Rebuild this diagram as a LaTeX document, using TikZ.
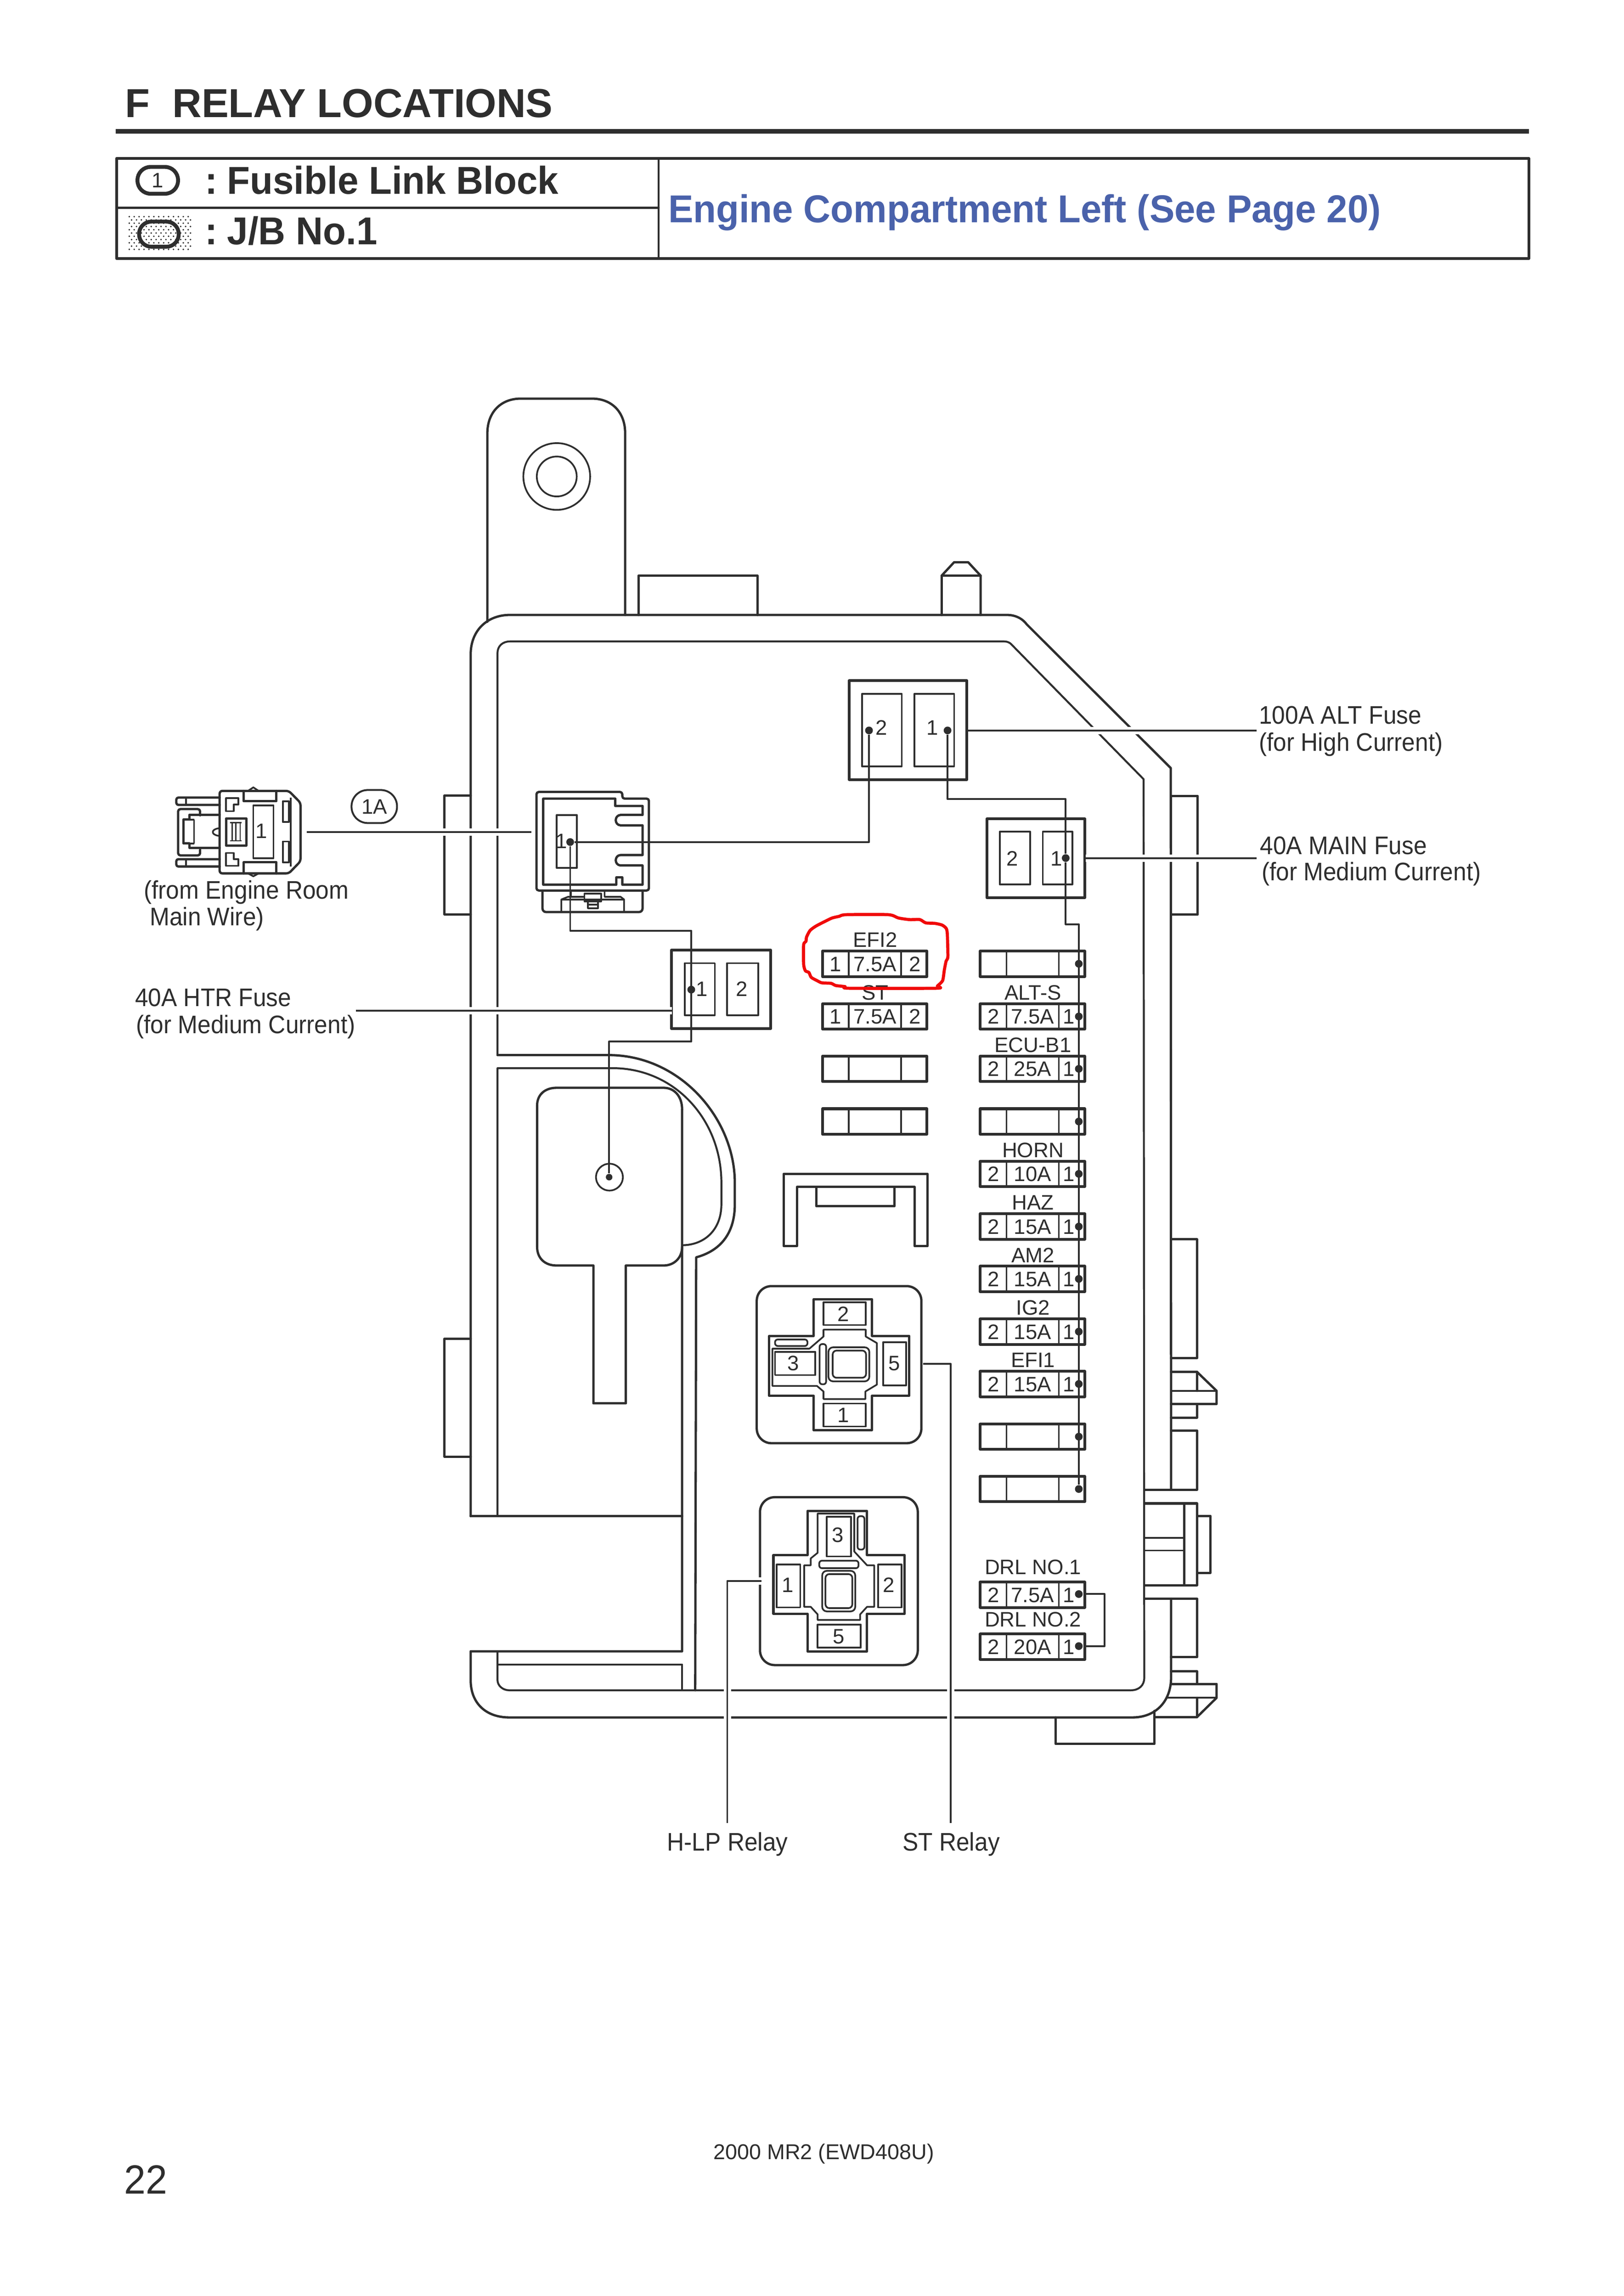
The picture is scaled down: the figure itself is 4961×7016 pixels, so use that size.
\documentclass[tikz,border=0pt]{standalone}
\usepackage{fontspec}
\setmainfont{Liberation Sans}
\newfontfamily\capfont[FakeStretch=0.93]{Liberation Sans}
\newfontfamily\legfont[FakeStretch=0.965]{Liberation Sans}
\newfontfamily\pagefont[FakeStretch=0.95]{Liberation Sans}
\definecolor{ink}{HTML}{2E2E2E}
\definecolor{headblue}{HTML}{4A62AB}
\definecolor{marker}{HTML}{F00A0A}
\tikzset{
  wall/.style={draw=ink,line width=0.30mm,line join=round,line cap=round},
  hvy/.style={draw=ink,line width=0.36mm,line join=round,line cap=round},
  lite/.style={draw=ink,line width=0.22mm,line join=round},
  wire/.style={draw=ink,line width=0.23mm,line join=round},
  leader/.style={draw=ink,line width=0.23mm,line join=round,line cap=butt,
     preaction={draw=white,line width=0.95mm,line cap=butt}},
  dotn/.style={circle,fill=ink,draw=none,minimum size=1.0mm,inner sep=0pt},
  lab/.style={inner sep=0pt,text=ink,font=\fontsize{7.7}{9}\selectfont},
  capt/.style={inner sep=0pt,text=ink,font=\capfont\fontsize{9.35}{11}\selectfont,anchor=base west},
  headt/.style={inner sep=0pt,text=ink,font=\legfont\fontsize{14.3}{17}\bfseries\selectfont,anchor=base west},
}
% name, x, top, left text, amp, right text, right offset, label, label baseline
\newcommand\fuse[9]{%
  \draw[hvy] (#2,#3+3) rectangle (#2+319,#3+81);
  \draw[lite] (#2+80,#3+3) -- (#2+80,#3+81);
  \draw[lite] (#2+240,#3+3) -- (#2+240,#3+81);
  \node[lab,anchor=base] (#1L) at (#2+40,#3+65) {#4};
  \node[lab,anchor=base] (#1A) at (#2+160,#3+65) {#5};
  \node[lab,anchor=base] (#1R) at (#2+#7,#3+65) {#6};
  \node[lab,anchor=base] (#1T) at (#2+161,#9) {#8};
}
\newcommand\blankfuse[2]{%
  \draw[hvy] (#1,#2+3) rectangle (#1+319,#2+81);
  \draw[lite] (#1+80,#2+3) -- (#1+80,#2+81);
  \draw[lite] (#1+240,#2+3) -- (#1+240,#2+81);
}
\begin{document}
\begin{tikzpicture}[x=0.04233mm,y=-0.04233mm]
\fill[white] (0,0) rectangle (4961,7016);
\useasboundingbox (0,0) rectangle (4961,7016);

% ---------- heading ----------
\node[headt,font=\fontsize{14.9}{17}\bfseries\selectfont] (title) at (381,358) {F\ \ RELAY LOCATIONS};
\fill[ink] (353,394) rectangle (4671,408);
\draw[hvy] (356,484) rectangle (4671,790);
\draw[wall] (356,635) -- (2012,635);
\draw[lite] (2012,484) -- (2012,790);
\draw[ink,line width=0.5mm,rounded corners=1.7mm] (420,510) rectangle (544,592);
\node[lab,anchor=base] (ico1) at (482,573) {1};
\foreach \i in {0,...,12}{\foreach \j in {0,...,10}{
  \fill[ink] ({395+\i*15+mod(\j,2)*7},{662+\j*10}) circle (2.6);}}
\draw[ink,line width=0.5mm,rounded corners=1.6mm] (425,677) rectangle (546,754);
\node[headt] (legA) at (625,593) {:\hspace{-0.55mm} Fusible Link Block};
\node[headt] (legB) at (625,747) {:\hspace{-0.55mm} J/B No.1};
\node[headt,text=headblue] (place) at (2040,680) {Engine Compartment Left (See Page 20)};

% ---------- housing ----------
\draw[wall] (1489,1900) -- (1489,1324) .. controls (1489,1260) and (1530,1218) .. (1591,1218)
   -- (1808,1218) .. controls (1870,1218) and (1910,1260) .. (1910,1324) -- (1910,1879);
\draw[lite] (1701,1456) circle (102);
\draw[lite] (1701,1456) circle (61);
\draw[wall] (1951,1879) -- (1951,1759) -- (2314,1759) -- (2314,1879);
\draw[wall] (2877,1879) -- (2877,1759) -- (2915,1718) -- (2958,1718) -- (2996,1759) -- (2996,1879);
\draw[wall] (2877,1759) -- (2996,1759);
% outer wall
\draw[wall] (1438,4633) -- (1438,2000) .. controls (1438,1925) and (1490,1879) .. (1558,1879)
   -- (3076,1879) .. controls (3100,1879) and (3122,1888) .. (3137,1908) -- (3577,2347) -- (3578,4552);
\draw[wall] (3578,4885) -- (3578,5125) .. controls (3578,5200) and (3530,5248) .. (3460,5248)
   -- (1556,5248) .. controls (1485,5248) and (1438,5205) .. (1438,5134) -- (1438,5046) -- (2084,5046) -- (2084,3390);
\draw[wall] (1438,4633) -- (2084,4633);
% inner wall
\draw[lite,line width=0.25mm] (1520,3224) -- (1520,1995) .. controls (1520,1975) and (1535,1960) .. (1558,1960)
   -- (3068,1960) .. controls (3078,1960) and (3086,1964) .. (3091,1970) -- (3494,2381) -- (3496,5127)
   .. controls (3496,5150) and (3480,5165) .. (3455,5165) -- (1556,5165) .. controls (1535,5165) and (1520,5150) .. (1520,5134) -- (1520,5046);
\draw[lite,line width=0.25mm] (1520,4633) -- (1520,3264) -- (1872,3264)
   .. controls (2060,3264) and (2204,3420) .. (2204,3614) -- (2204,3680)
   .. controls (2204,3760) and (2150,3805) .. (2084,3805);
\draw[wall] (1520,3224) -- (1859,3224) .. controls (2080,3224) and (2245,3420) .. (2245,3614)
   -- (2245,3680) .. controls (2245,3780) and (2190,3825) .. (2127,3842) -- (2124,5165);
\draw[lite,line width=0.25mm] (1520,5086) -- (2084,5086) -- (2084,5165);
% handle
\draw[wall] (2084,3390) .. controls (2084,3350) and (2060,3324) .. (2028,3324) -- (1700,3324)
   .. controls (1665,3324) and (1641,3345) .. (1641,3378) -- (1641,3810)
   .. controls (1641,3845) and (1665,3867) .. (1700,3867) -- (1813,3867) -- (1813,4288)
   -- (1912,4288) -- (1912,3867) -- (2028,3867) .. controls (2058,3867) and (2084,3845) .. (2084,3810);
\draw[lite] (1862,3597) circle (41);
% side brackets
\draw[wall] (1438,2431) -- (1358,2431) -- (1358,2794) -- (1438,2794);
\draw[wall] (1438,4091) -- (1358,4091) -- (1358,4451) -- (1438,4451);
\draw[wall] (3578,2432) -- (3659,2432) -- (3659,2795) -- (3578,2795);
\draw[wall] (3578,3787) -- (3657,3787) -- (3657,4150) -- (3578,4150);
\draw[wall] (3578,4192) -- (3657,4192) -- (3717,4250) -- (3717,4290) -- (3578,4290);
\draw[lite] (3578,4250) -- (3717,4250);
\draw[wall] (3657,4192) -- (3657,4250);
\draw[wall] (3657,4290) -- (3657,4332) -- (3578,4332);
\draw[wall] (3578,4371) -- (3657,4371) -- (3657,4552) -- (3496,4552);
\draw[wall] (3496,4594) -- (3657,4594) -- (3657,4632) -- (3698,4632) -- (3698,4806) -- (3657,4806) -- (3657,4844) -- (3496,4844);
\draw[wall] (3618,4594) -- (3618,4844);
\draw[lite] (3496,4699) -- (3618,4699);
\draw[lite] (3496,4738) -- (3618,4738);
\draw[wall] (3657,4806) -- (3657,4632);
\draw[wall] (3496,4885) -- (3657,4885) -- (3657,5064) -- (3578,5064);
\draw[wall] (3578,5107) -- (3657,5107) -- (3657,5146);
\draw[wall] (3578,5146) -- (3717,5146) -- (3717,5188) -- (3657,5247) -- (3527,5247);
\draw[lite] (3563,5188) -- (3717,5188);
\draw[wall] (3657,5188) -- (3657,5247);
\draw[wall] (3225,5248) -- (3225,5329) -- (3527,5329) -- (3527,5228);

% ---------- large fuse boxes ----------
\draw[hvy] (2594,2080) rectangle (2954,2382);
\draw[lite] (2634,2120) rectangle (2755,2342);
\draw[lite] (2794,2120) rectangle (2915,2342);
\node[lab,anchor=base] (altTwo) at (2693,2246) {2};
\node[lab,anchor=base] (altOne) at (2849,2246) {1};
\draw[hvy] (3015,2502) rectangle (3314,2743);
\draw[lite] (3055,2541) rectangle (3147,2703);
\draw[lite] (3186,2541) rectangle (3276,2703);
\node[lab,anchor=base] (mainTwo) at (3093,2645) {2};
\node[lab,anchor=base] (mainOne) at (3227,2645) {1};
\draw[hvy] (2051,2903) rectangle (2355,3143);
\draw[lite] (2092,2943) rectangle (2184,3102);
\draw[lite] (2221,2943) rectangle (2317,3102);
\node[lab,anchor=base] (htrOne) at (2145,3044) {1};
\node[lab,anchor=base] (htrTwo) at (2266,3044) {2};

% ---------- fuses ----------
\fuse{efiB}{2513}{2903}{1}{7.5A}{2}{282}{EFI2}{2894}
\fuse{st}{2513}{3064}{1}{7.5A}{2}{282}{ST}{3055}
\blankfuse{2513}{3224}
\blankfuse{2513}{3385}
\blankfuse{2995}{2903}
\fuse{alts}{2995}{3064}{2}{7.5A}{1}{270}{ALT-S}{3055}
\fuse{ecu}{2995}{3224}{2}{25A}{1}{270}{ECU-B1}{3215}
\blankfuse{2995}{3385}
\fuse{horn}{2995}{3545}{2}{10A}{1}{270}{HORN}{3537}
\fuse{haz}{2995}{3706}{2}{15A}{1}{270}{HAZ}{3697}
\fuse{amt}{2995}{3866}{2}{15A}{1}{270}{AM2}{3858}
\fuse{igt}{2995}{4027}{2}{15A}{1}{270}{IG2}{4018}
\fuse{efiA}{2995}{4187}{2}{15A}{1}{270}{EFI1}{4178}
\blankfuse{2995}{4348}
\blankfuse{2995}{4508}
\fuse{drlA}{2995}{4831}{2}{7.5A}{1}{270}{DRL NO.1}{4811}
\fuse{drlB}{2995}{4990}{2}{20A}{1}{270}{DRL NO.2}{4971}

% ---------- clip ----------
\draw[wall] (2394,3807) -- (2394,3587) -- (2834,3587) -- (2834,3807) -- (2794,3807) -- (2794,3627) -- (2435,3627) -- (2435,3807) -- cycle;
\draw[wall] (2494,3627) -- (2494,3686) -- (2733,3686) -- (2733,3627);

% ---------- ST relay ----------
\draw[wall,rounded corners=1.9mm] (2312,3930) rectangle (2815,4410);
\draw[wall] (2486,3970) -- (2664,3970) -- (2664,4082) -- (2778,4082) -- (2778,4265) -- (2664,4265) -- (2664,4370) -- (2486,4370) -- (2486,4265) -- (2350,4265) -- (2350,4082) -- (2486,4082) -- cycle;
\draw[lite] (2516,4063) -- (2645,4063) -- (2645,4084) -- (2679,4104) -- (2679,4231) -- (2644,4252) -- (2644,4275) -- (2516,4275) -- (2516,4252) -- (2496,4235) -- (2360,4235) -- (2360,4121) -- (2473,4121) -- (2516,4084) -- cycle;
\draw[lite] (2516,3979) rectangle (2645,4049);
\draw[lite] (2516,4289) rectangle (2645,4359);
\draw[lite] (2368,4131) rectangle (2491,4202);
\draw[lite] (2698,4101) rectangle (2768,4233);
\draw[lite,rounded corners=0.35mm] (2368,4093) rectangle (2467,4113);
\draw[lite,rounded corners=0.35mm] (2504,4107) rectangle (2524,4230);
\draw[lite,rounded corners=0.6mm] (2531,4117) rectangle (2656,4221);
\draw[lite,rounded corners=0.5mm] (2544,4127) rectangle (2646,4210);
\node[lab,anchor=base] (stTwo) at (2577,4037) {2};
\node[lab,anchor=base] (stOne) at (2577,4347) {1};
\node[lab,anchor=base] (stThree) at (2424,4188) {3};
\node[lab,anchor=base] (stFive) at (2732,4188) {5};

% ---------- H-LP relay ----------
\draw[wall,rounded corners=1.9mm] (2322,4575) rectangle (2804,5088);
\draw[wall] (2467,4617) -- (2649,4617) -- (2649,4752) -- (2764,4752) -- (2764,4931) -- (2649,4931) -- (2649,5046) -- (2467,5046) -- (2467,4931) -- (2363,4931) -- (2363,4752) -- (2467,4752) -- cycle;
\draw[lite] (2498,4625) -- (2610,4625) -- (2610,4741) -- (2649,4783) -- (2671,4783) -- (2671,4910) -- (2649,4910) -- (2628,4933) -- (2628,4950) -- (2498,4950) -- (2498,4933) -- (2477,4910) -- (2457,4910) -- (2457,4783) -- (2477,4783) -- (2477,4762) -- (2498,4745) -- cycle;
\draw[lite] (2526,4635) rectangle (2600,4756);
\draw[lite] (2373,4781) rectangle (2445,4912);
\draw[lite] (2683,4781) rectangle (2754,4912);
\draw[lite] (2498,4964) rectangle (2630,5035);
\draw[lite,rounded corners=0.35mm] (2620,4633) rectangle (2641,4735);
\draw[lite,rounded corners=0.35mm] (2503,4769) rectangle (2623,4792);
\draw[lite,rounded corners=0.6mm] (2512,4800) rectangle (2613,4924);
\draw[lite,rounded corners=0.5mm] (2522,4810) rectangle (2604,4914);
\node[lab,anchor=base] (hlThree) at (2559,4713) {3};
\node[lab,anchor=base] (hlOne) at (2407,4866) {1};
\node[lab,anchor=base] (hlTwo) at (2715,4866) {2};
\node[lab,anchor=base] (hlFive) at (2562,5023) {5};

% ---------- connectors (traced in a stretched local frame) ----------
\begin{scope}[shift={(400,2300)},x=0.04589mm,y=-0.02701mm]
  % free connector
  \draw[wall,rounded corners=0.35mm] (250,215) -- (250,183) -- (445,183) -- (478,240) -- (478,520) -- (445,578) -- (250,578) -- cycle;
  \draw[lite] (450,215) -- (450,545);
  \draw[lite] (330,183) -- (345,166) -- (360,183);
  \draw[lite] (330,578) -- (345,592) -- (360,578);
  \draw[wall] (318,183) -- (318,232) -- (410,232) -- (410,183);
  \draw[wall] (318,578) -- (318,525) -- (410,525) -- (410,578);
  \draw[lite] (428,232) rectangle (445,332);
  \draw[lite] (428,425) rectangle (445,525);
  \draw[lite] (268,218) -- (303,218) -- (303,248) -- (290,248) -- (290,280) -- (268,280) -- cycle;
  \draw[lite] (268,480) -- (290,480) -- (290,510) -- (303,510) -- (303,542) -- (268,542) -- cycle;
  \draw[lite] (345,252) rectangle (402,505);
  \draw[wall] (268,315) rectangle (325,445);
  \draw[lite,line width=0.15mm] (280,335) -- (312,335);
  \draw[lite,line width=0.15mm] (280,422) -- (312,422);
  \draw[lite,line width=0.15mm] (285,335) -- (285,422);
  \draw[lite,line width=0.15mm] (296,335) -- (296,422);
  \draw[lite,line width=0.15mm] (308,335) -- (308,422);
  \draw[wall,rounded corners=0.25mm] (250,215) -- (128,215) -- (128,250) -- (250,250);
  \draw[wall,rounded corners=0.25mm] (250,510) -- (128,510) -- (128,545) -- (250,545);
  \draw[lite] (155,215) -- (155,250);
  \draw[lite] (155,510) -- (155,545);
  \draw[wall,rounded corners=0.3mm] (195,300) -- (195,270) -- (133,270) -- (133,492) -- (195,492) -- (195,465);
  \draw[wall] (250,297) -- (165,297) -- (165,320) -- (148,320) -- (148,435) -- (165,435) -- (165,455) -- (250,455);
  \draw[lite] (178,320) -- (178,435);
  \draw[lite] (148,320) -- (178,320);
  \draw[lite] (148,435) -- (178,435);
  \draw[lite] (248,362) .. controls (225,366) and (225,394) .. (248,398);
  \node[lab,anchor=base] (connOne) at (368,410) {1};
  % block connector
  \draw[wall,rounded corners=0.3mm] (1143,660) -- (1143,188) -- (1385,188) -- (1385,220) -- (1460,220) -- (1460,660) -- cycle;
  \draw[wall,rounded corners=0.45mm] (1160,660) -- (1160,763) -- (1442,763) -- (1442,660);
  \draw[wall] (1162,220) -- (1365,220) -- (1365,255) -- (1442,255) -- (1442,298) -- (1380,298) .. controls (1362,300) and (1362,346) .. (1380,348) -- (1442,348) -- (1442,490) -- (1380,490) .. controls (1362,492) and (1362,538) .. (1380,540) -- (1442,540) -- (1442,632) -- (1385,632) -- (1385,597) -- (1368,597) -- (1368,632) -- (1162,632) -- cycle;
  \draw[lite] (1200,298) rectangle (1257,552);
  \draw[lite] (1213,763) -- (1213,703) -- (1232,690) -- (1278,690);
  \draw[lite] (1240,665) -- (1240,690);
  \draw[lite] (1335,665) -- (1335,690) -- (1380,690) -- (1390,703) -- (1390,763);
  \draw[lite] (1213,703) -- (1390,703);
  \draw[lite] (1278,675) rectangle (1325,712);
  \draw[lite] (1288,712) rectangle (1316,745);
  \draw[lite] (1288,728) -- (1316,728);
  \node[lab,anchor=base] (blockOne) at (1213,458) {1};
\end{scope}
\draw[wall,line width=0.24mm,rounded corners=2.1mm] (1074,2414) rectangle (1213,2515);
\node[lab,anchor=base] (oneA) at (1144,2487) {1A};

% ---------- dots and wires ----------
\node[dotn] (dBlock) at (1742,2573) {};
\node[dotn] (dAltTwo) at (2655,2232) {};
\node[dotn] (dAltOne) at (2895,2232) {};
\node[dotn] (dMain) at (3256,2622) {};
\node[dotn] (dHtr) at (2112,3024) {};
\node[dotn,minimum size=0.85mm] (dBolt) at (1861,3597) {};
\foreach \n/\y in {a/2945,b/3106,c/3266,d/3427,e/3587,f/3748,g/3908,h/4069,i/4229,j/4390,k/4550,l/4871,m/5030}
  \node[dotn] (dF\n) at (3296,\y) {};
\coordinate (w1) at (1742,2844);
\coordinate (w2) at (2112,2844);
\coordinate (w3) at (2112,3183);
\coordinate (w4) at (1861,3183);
\coordinate (w5) at (2655,2573);
\coordinate (w6) at (2895,2442);
\coordinate (w7) at (3256,2442);
\coordinate (w8) at (3256,2824);
\coordinate (w9) at (3296,2824);
\coordinate (w10) at (3375,4871);
\coordinate (w11) at (3375,5030);
\draw[wire] (dBlock) -- (w1) -- (w2) -- (w3) -- (w4) -- (dBolt);
\draw[wire] (dBlock) -- (w5) -- (dAltTwo);
\draw[wire] (dAltOne) -- (w6) -- (w7) -- (dMain) -- (w8) -- (w9) -- (dFk);
\draw[wire] (dFl) -- (w10) -- (w11) -- (dFm);

% ---------- leaders ----------
\coordinate (l1a) at (2958,2232); \coordinate (l1b) at (3839,2232);
\coordinate (l2a) at (3317,2622); \coordinate (l2b) at (3839,2622);
\coordinate (l3a) at (937,2542);  \coordinate (l3b) at (1623,2542);
\coordinate (l4a) at (1087,3088); \coordinate (l4b) at (2053,3088);
\coordinate (l5a) at (2326,4831); \coordinate (l5b) at (2222,4831); \coordinate (l5c) at (2222,5570);
\coordinate (l6a) at (2821,4168); \coordinate (l6b) at (2905,4168); \coordinate (l6c) at (2905,5570);
\draw[leader] (l1a) -- (l1b);
\draw[leader] (l2a) -- (l2b);
\draw[leader] (l3a) -- (l3b);
\draw[leader] (l4a) -- (l4b);
\draw[leader] (l5a) -- (l5b) -- (l5c);
\draw[leader] (l6a) -- (l6b) -- (l6c);

% ---------- captions ----------
\node[capt] (c1) at (3845,2212) {100A ALT Fuse};
\node[capt] (c2) at (3845,2295) {(for High Current)};
\node[capt] (c3) at (3848,2610) {40A MAIN Fuse};
\node[capt] (c4) at (3853,2691) {(for Medium Current)};
\node[capt] (c5) at (438,2747) {(from Engine Room};
\node[capt] (c6) at (456,2828) {Main Wire)};
\node[capt] (c7) at (411,3075) {40A HTR Fuse};
\node[capt] (c8) at (414,3158) {(for Medium Current)};
\node[capt,anchor=base] (c9) at (2223,5656) {H-LP Relay};
\node[capt,anchor=base] (c10) at (2906,5656) {ST Relay};
\node[lab,font=\fontsize{7.9}{9}\selectfont,anchor=base west] (foot) at (2178,6599) {2000 MR2 (EWD408U)};
\node[lab,font=\pagefont\fontsize{15}{17}\selectfont,anchor=base west] (page) at (378,6704) {22};

% ---------- hand-drawn red marker ----------
\begin{scope}[shift={(2400,2750)},x=0.01511mm,y=-0.01410mm]
  \draw[marker,line width=0.40mm,line join=round] plot[smooth cycle,tension=0.4] coordinates {
    (520,135) (880,135) (965,165) (1060,180) (1150,180) (1200,210) (1280,215) (1340,230) (1375,260)
    (1385,310) (1390,520) (1375,560) (1360,640) (1345,740) (1300,790) (1290,810) (545,810) (510,795)
    (430,785) (390,765) (310,760) (270,740) (220,710) (200,665) (170,650) (155,590) (155,410)
    (175,380) (180,340) (210,280) (260,240) (350,190) (400,165) (460,150)};
\end{scope}
\end{tikzpicture}
\end{document}
